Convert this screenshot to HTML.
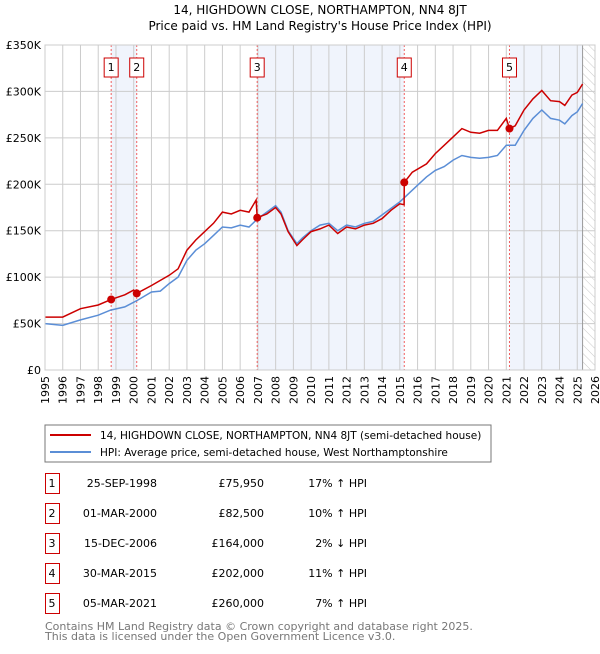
<!DOCTYPE html>
<html><head><meta charset="utf-8"><style>
body{margin:0;background:#fff;font-family:"DejaVu Sans","Liberation Sans",sans-serif;}
svg text{font-family:"DejaVu Sans","Liberation Sans",sans-serif;}
</style></head><body>
<svg id="chart" width="600" height="650" viewBox="0 0 600 650" xmlns="http://www.w3.org/2000/svg">
<defs><pattern id="hatch" width="6" height="6" patternUnits="userSpaceOnUse" patternTransform="rotate(-45)"><line x1="0" y1="0" x2="0" y2="6" stroke="#bbb" stroke-width="0.8"/></pattern></defs>
<text x="320" y="14" text-anchor="middle" font-size="12">14, HIGHDOWN CLOSE, NORTHAMPTON, NN4 8JT</text>
<text x="320" y="30" text-anchor="middle" font-size="12">Price paid vs. HM Land Registry's House Price Index (HPI)</text>
<g id="plot"></g>
<rect x="45" y="425" width="446" height="37" fill="#fff" stroke="#777"/>
<line x1="50" y1="435" x2="91" y2="435" stroke="#cc0000" stroke-width="2"/>
<text x="100" y="439" font-size="10.5">14, HIGHDOWN CLOSE, NORTHAMPTON, NN4 8JT (semi-detached house)</text>
<line x1="50" y1="452" x2="91" y2="452" stroke="#5b8ed6" stroke-width="2"/>
<text x="100" y="456" font-size="10.5">HPI: Average price, semi-detached house, West Northamptonshire</text>
<g id="table"></g>
<text x="45" y="630" font-size="11" fill="#777">Contains HM Land Registry data © Crown copyright and database right 2025.</text>
<text x="45" y="640" font-size="11" fill="#777">This data is licensed under the Open Government Licence v3.0.</text>
</svg>
<script>
const hpiYears=[1995,1996,1997,1998,1998.7,1999.5,2000.2,2001,2001.5,2002,2002.5,2003,2003.5,2004,2004.5,2005,2005.5,2006,2006.5,2007,2007.5,2008,2008.3,2008.7,2009.2,2009.5,2010,2010.5,2011,2011.5,2012,2012.5,2013,2013.5,2014,2014.5,2015,2015.5,2016,2016.5,2017,2017.5,2018,2018.5,2019,2019.5,2020,2020.5,2021,2021.5,2022,2022.5,2023,2023.5,2024,2024.3,2024.7,2025,2025.3];
const hpiValues=[50,48,54,59,64.5,68,75,84,85,93,100,118,129,136,145,154,153,156,154,163,170,177,170,150,136,142,150,156,158,150,156,154,158,160,167,174,181,190,199,208,215,219,226,231,229,228,229,231,242,242,258,271,280,271,269,265,274,278,287];
const redYears=[1995,1996,1997,1998,1998.73,1999.5,2000,2000.17,2001,2002,2002.5,2003,2003.5,2004,2004.5,2005,2005.5,2006,2006.5,2006.9,2006.96,2007.5,2008,2008.3,2008.7,2009.2,2009.5,2010,2010.5,2011,2011.5,2012,2012.5,2013,2013.5,2014,2014.5,2015,2015.24,2015.25,2015.7,2016.5,2017,2017.5,2018,2018.5,2019,2019.5,2020,2020.5,2021,2021.18,2021.5,2022,2022.5,2023,2023.5,2024,2024.3,2024.7,2025,2025.3];
const redValues=[57,57,66,70,76,81,86,82.5,91,102,109,129,140,149,158,170,168,172,170,183,164,168,175,168,149,134,140,149,152,156,147,154,152,156,158,163,172,179,178,202,213,222,233,242,251,260,256,255,258,258,271,260,263,280,292,301,290,289,285,296,299,308];
const saleYears=[1998.73,2000.17,2006.96,2015.25,2021.18];
const saleValues=[75.95,82.5,164,202,260];
const saleLabels=["1","2","3","4","5"];
const saleDates=["25-SEP-1998","01-MAR-2000","15-DEC-2006","30-MAR-2015","05-MAR-2021"];
const salePrices=["£75,950","£82,500","£164,000","£202,000","£260,000"];
const saleHpi=["17% ↑ HPI","10% ↑ HPI","2% ↓ HPI","11% ↑ HPI","7% ↑ HPI"];
const yTicks=[0,50,100,150,200,250,300,350];
const yTickLabels=["£0","£50K","£100K","£150K","£200K","£250K","£300K","£350K"];
const xTicks=[1995,1996,1997,1998,1999,2000,2001,2002,2003,2004,2005,2006,2007,2008,2009,2010,2011,2012,2013,2014,2015,2016,2017,2018,2019,2020,2021,2022,2023,2024,2025,2026];

const NS="http://www.w3.org/2000/svg";
const L=45,R=595,T=45,B=370;
const x=v=>L+(v-1995)/(2026-1995)*(R-L);
const y=v=>B-v/350*(B-T);
const g=document.getElementById('plot');
function mk(tag,attrs,parent){const e=document.createElementNS(NS,tag);for(const k in attrs)e.setAttribute(k,attrs[k]);(parent||g).appendChild(e);return e;}
const bandEdges=[[saleYears[0],saleYears[1]],[saleYears[2],saleYears[3]],[saleYears[4],2025.3]];
bandEdges.forEach(b=>{const r=mk('rect',{x:x(b[0]),y:T,width:x(b[1])-x(b[0]),height:B-T,fill:'#f0f4fc'});

});
const h=mk('rect',{x:x(2025.3),y:T,width:R-x(2025.3),height:B-T,fill:'url(#hatch)'});


xTicks.forEach(t=>{const l=mk('line',{x1:x(t),x2:x(t),y1:T,y2:B,stroke:'#ccc','stroke-width':1});


const tx=mk('text',{x:0,y:0,'font-size':11,'text-anchor':'end',transform:`translate(${x(t)+4},${B+6}) rotate(-90)`});tx.textContent=t;

});
yTicks.forEach((t,i)=>{const l=mk('line',{x1:L,x2:R,y1:y(t),y2:y(t),stroke:'#ccc','stroke-width':1});


const tx=mk('text',{x:L-4,y:y(t)+4,'font-size':11,'text-anchor':'end'});tx.textContent=yTickLabels[i];

});
const nowl=mk('line',{x1:x(2025.3),x2:x(2025.3),y1:T,y2:B,stroke:'#999','stroke-width':1});


saleYears.forEach((s,i)=>{const l=mk('line',{x1:x(s),x2:x(s),y1:T,y2:B,stroke:'#f06060','stroke-width':1,'stroke-dasharray':'2,2'});


const bx=mk('rect',{x:x(s)-7,y:58,width:14,height:19,fill:'#fff',stroke:'#cc0000'});


const t=mk('text',{x:x(s),y:71,'font-size':11,'text-anchor':'middle'});t.textContent=saleLabels[i];

});
const pts=(ys,vs)=>ys.map((v,i)=>x(v).toFixed(1)+','+y(vs[i]).toFixed(1)).join(' ');
const hp=mk('polyline',{points:pts(hpiYears,hpiValues),fill:'none',stroke:'#5b8ed6','stroke-width':1.5});


const rp=mk('polyline',{points:pts(redYears,redValues),fill:'none',stroke:'#cc0000','stroke-width':1.5});


saleYears.forEach((s,i)=>{const c=mk('circle',{cx:x(s),cy:y(saleValues[i]),r:4,fill:'#cc0000'});

});
const fr=mk('rect',{x:L,y:T,width:R-L,height:B-T,fill:'none',stroke:'#ccc'});


const tg=document.getElementById('table');
saleLabels.forEach((lab,i)=>{const cy=483+i*30;
const b=mk('rect',{x:45.5,y:cy-9.5,width:14,height:20,fill:'#fff',stroke:'#cc0000'},tg);


const cells=[[52,'middle',lab],[157,'end',saleDates[i]],[264,'end',salePrices[i]],[367,'end',saleHpi[i]]];
cells.forEach((c,j)=>{const t=mk('text',{x:c[0],y:cy+4,'font-size':11,'text-anchor':c[1]},tg);t.textContent=c[2];

});});
</script>
</body></html>
